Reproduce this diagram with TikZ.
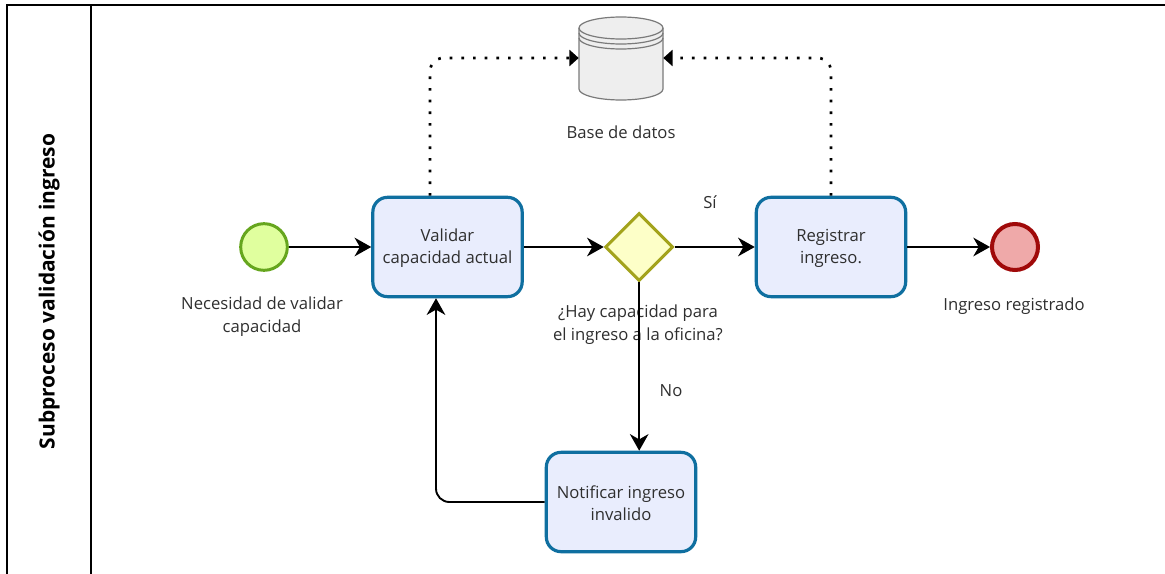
\documentclass[tikz,border=0pt]{standalone}
\usepackage{fontspec}
\setmainfont{Open Sans}
\usetikzlibrary{arrows.meta,shapes.geometric}
\definecolor{txt}{HTML}{2F2F2F}
\definecolor{taskline}{HTML}{0F6FA0}
\definecolor{taskfill}{HTML}{E9EDFD}
\definecolor{gateline}{HTML}{A3A31C}
\definecolor{gatefill}{HTML}{FDFFC8}
\definecolor{startline}{HTML}{66A61E}
\definecolor{startfill}{HTML}{E0FF9E}
\definecolor{endline}{HTML}{A00A0A}
\definecolor{endfill}{HTML}{EFA9A9}
\definecolor{dbline}{HTML}{7A7A7A}
\definecolor{dbfill}{HTML}{EEEEEE}
\tikzset{
  lane/.style={draw=black,line width=1.5pt},
  label/.style={text=txt,font=\fontsize{12.5}{17}\selectfont,align=center,inner sep=0pt},
  task/.style={label,font=\fontsize{12.5}{16}\selectfont,rectangle,draw=taskline,fill=taskfill,line width=2.4pt,rounded corners=11pt,
     minimum width=112pt,minimum height=74.5pt},
  gateway/.style={diamond,draw=gateline,fill=gatefill,line width=2.25pt,minimum width=51pt,minimum height=51pt,inner sep=0pt},
  startev/.style={circle,draw=startline,fill=startfill,line width=2.25pt,minimum size=35pt,inner sep=0pt},
  endev/.style={circle,draw=endline,fill=endfill,line width=3pt,minimum size=34.5pt,inner sep=0pt},
  flow/.style={draw=black,line width=1.4pt,-{Stealth[length=12.5pt,width=14pt,inset=4pt]},rounded corners=10pt},
  assoc/.style={draw=black,line width=2pt,dash pattern=on 2pt off 6.75pt,rounded corners=10pt,
     -{Triangle[length=7pt,width=12pt]}},
  dbshape/.style={draw=dbline,line width=0.9pt}
}
\begin{document}
\begin{tikzpicture}[x=0.75pt,y=-0.75pt]
\useasboundingbox (0,0) rectangle (1165,574);
\fill[white] (0,0) rectangle (1165,574);
% lane
\draw[lane] (7,574) -- (7,5) -- (1165,5);
\draw[lane] (90.5,5) -- (90.5,574);
\node[rotate=90,text=black,font=\fontsize{15.7}{18}\selectfont\bfseries,inner sep=0pt] (lanetitle) at (49,291.5) {Subproceso validación ingreso};
% database
\path[dbshape,fill=dbfill] (579,28) -- (579,89) arc[start angle=180,end angle=0,x radius=42,y radius=11] -- (663,28)
  arc[start angle=0,end angle=-180,x radius=42,y radius=11] -- cycle;
\draw[dbshape] (579,28) arc[start angle=180,end angle=0,x radius=42,y radius=11];
\draw[dbshape] (579,33) arc[start angle=180,end angle=0,x radius=42,y radius=11];
\draw[dbshape] (579,38) arc[start angle=180,end angle=0,x radius=42,y radius=11];
\node[inner sep=0pt,minimum width=63pt,minimum height=1pt] (db) at (621,58) {};
\node[label] (dblabel) at (621,132) {Base de datos};
% nodes
\node[startev] (start) at (264,247) {};
\node[label] (startlabel) at (262,316.5) {Necesidad de validar\\capacidad};
\node[task] (val) at (447.5,247) {\strut Validar\\capacidad actual};
\node[gateway] (gate) at (639.2,247) {};
\node[label] (gatelabel) at (638,325) {¿Hay capacidad para\\el ingreso a la oficina?};
\node[task] (reg) at (831,247) {\strut Registrar\\ingreso.};
\node[endev] (stop) at (1015,247) {};
\node[label] (stoplabel) at (1014,306) {Ingreso registrado};
\node[task] (notif) at (621,502) {\strut Notificar ingreso\\invalido};
\node[label] (si) at (710,202) {Sí};
\node[label] (no) at (671,391) {No};
% connectors
\coordinate (c1) at (430,58);
\coordinate (c2) at (831,58);
\coordinate (c3) at (436,502);
\draw[flow] (start) -- (val);
\draw[flow] (val) -- (gate);
\draw[flow] (gate) -- (reg);
\draw[flow] (reg) -- (stop);
\draw[flow] (gate.south) -- (gate.south |- notif.north);
\draw[flow] (notif.west) -- (c3) -- (c3 |- val.south);
\draw[assoc] (val.north -| c1) -- (c1) -- (db.west);
\draw[assoc] (reg.north) -- (c2) -- (db.east);
\end{tikzpicture}
\end{document}
